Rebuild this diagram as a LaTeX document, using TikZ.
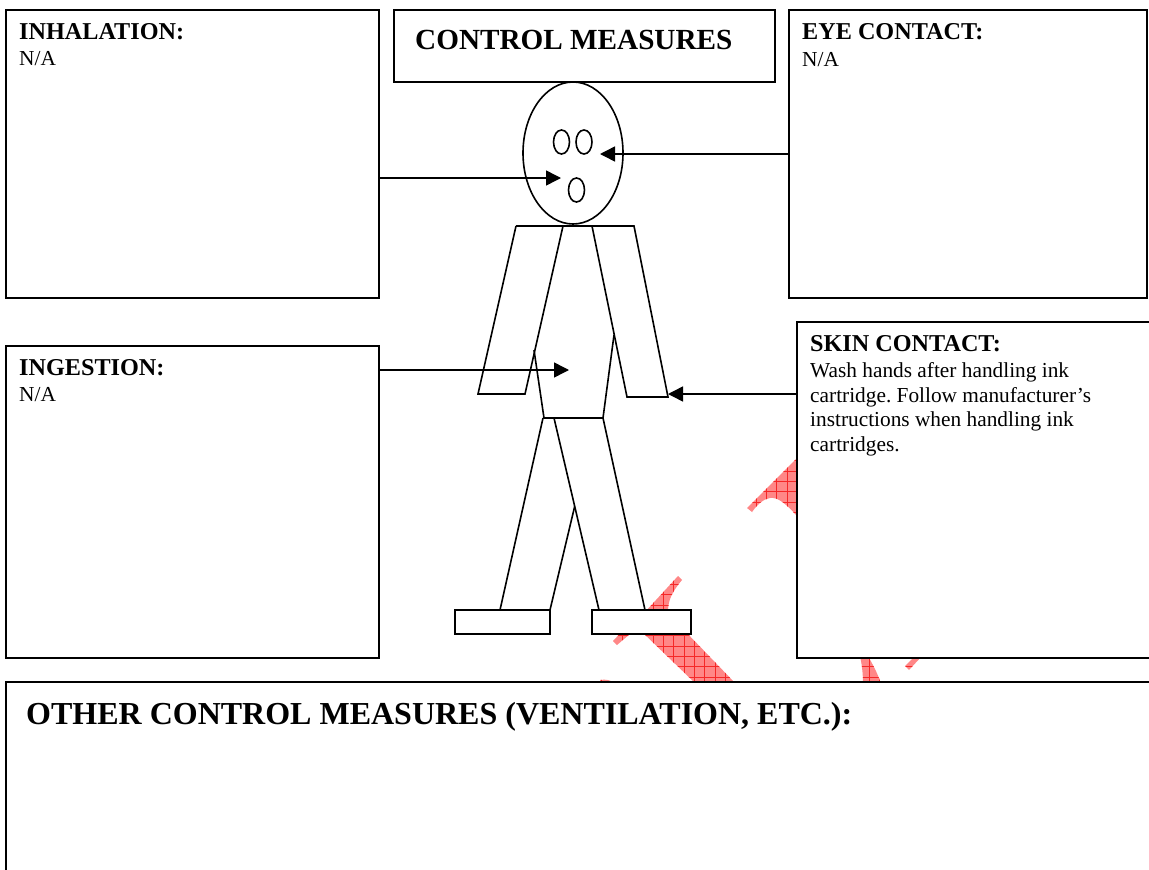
\documentclass[tikz,border=0pt]{standalone}
\usepackage{fontspec}
\setmainfont{Liberation Serif}
\usetikzlibrary{arrows.meta}
\definecolor{hazfill}{RGB}{255,135,135}
\definecolor{hazline}{RGB}{245,40,40}
\tikzset{
  panel/.style={draw=black,line width=1.6pt,fill=white,anchor=north west,inner sep=0pt,outer sep=0pt},
  limb/.style={draw=black,line width=1.6pt,line join=miter,fill=white},
  faceoval/.style={draw=black,line width=1.6pt,fill=white},
  pointer/.style={draw=black,line width=1.5pt,-{Triangle[length=15pt,width=15pt]}},
  head/.style={font=\fontsize{24.2}{26}\selectfont\bfseries,anchor=west,inner sep=0pt},
  body/.style={font=\fontsize{21.33}{24.6}\selectfont\frenchspacing,anchor=north west,inner sep=0pt,align=left},
}
\newcommand{\hazpiece}[1]{%
  \begin{scope}
    \fill[hazfill] #1;
    \clip #1;
    \foreach \gx in {601.5,611.8,...,900}{\draw[hazline,line width=0.5pt] (\gx,450)--(\gx,690);}
    \foreach \gy in {460.6,470.9,...,690}{\draw[hazline,line width=0.5pt] (600,\gy)--(930,\gy);}
  \end{scope}}
\begin{document}
\begin{tikzpicture}[x=1pt,y=-1pt]
\useasboundingbox (0,0) rectangle (1149,870);
\fill[white] (0,0) rectangle (1149,870);
% hazard symbol fragments
\hazpiece{(747,508) -- (797,458) -- (800,458) -- (800,518) -- (797,516) .. controls (785,503) and (778,497) .. (770,498) .. controls (763,499) and (757,505) .. (752,512) -- cycle}
\hazpiece{(678,576) -- (682,580) .. controls (672,592) and (668,600) .. (668,612) -- (645,612) -- cycle}
\hazpiece{(640,630) -- (684,630) -- (736,684) -- (696,684) -- cycle}
\hazpiece{(613,641) -- (640,612) -- (650,612) -- (630,634) -- (617,645) -- cycle}
\hazpiece{(600,680) .. controls (606,679) and (611,680) .. (616,684) -- (600,684) -- cycle}
\hazpiece{(860,656) -- (868,656) .. controls (873,665) and (878,674) .. (881,684) -- (863,684) .. controls (863,674) and (862,665) .. (860,656) -- cycle}
\hazpiece{(905,666) -- (915,656) -- (922,656) -- (909,670) -- cycle}
% panels
\node[panel,minimum width=373pt,minimum height=288pt] (inh) at (6,10) {};
\node[panel,minimum width=381pt,minimum height=72pt] (ctl) at (394,10) {};
\node[panel,minimum width=358pt,minimum height=288pt] (eye) at (789,10) {};
\node[panel,minimum width=373pt,minimum height=312pt] (ing) at (6,346) {};
\node[panel,minimum width=370pt,minimum height=336pt] (skn) at (797,322) {};
\node[panel,minimum width=1160pt,minimum height=200pt] (oth) at (6,682) {};
% figure
\draw[limb] (543,418) -- (500,610) -- (550,610) -- (575,505);
\draw[limb] (554,418) -- (599,610) -- (645,610) -- (603,418);
\draw[limb] (534,350) -- (544,418) -- (603,418) -- (614,335);
\draw[limb] (516,226) -- (634,226) -- (668,397) -- (627,397) -- (592,226);
\draw[limb,fill=none] (563,226) -- (525,394) -- (478,394) -- (516,226);
\draw[faceoval] (573,153) ellipse [x radius=50,y radius=71];
\draw[faceoval] (561.5,142) ellipse [x radius=8,y radius=12];
\draw[faceoval] (584,142) ellipse [x radius=8,y radius=12];
\draw[faceoval] (576.5,190) ellipse [x radius=8,y radius=12];
\draw[limb] (455,610) rectangle (550,634);
\draw[limb] (592,610) rectangle (691,634);
% connector ends
\coordinate (tinh) at (561,178);
\coordinate (teye) at (600,154);
\coordinate (ting) at (569,370);
\coordinate (tskn) at (668,394);
\draw[pointer] (inh.east |- tinh) -- (tinh);
\draw[pointer] (eye.west |- teye) -- (teye);
\draw[pointer] (ing.east |- ting) -- (ting);
\draw[pointer] (skn.west |- tskn) -- (tskn);
% text
\node[head] (t1) at (19,32) {INHALATION:};
\node[body] (t2) at (19,51.5) {N/A};
\node[head] (t3) at (802,32) {EYE CONTACT:};
\node[body] (t4) at (802,52.5) {N/A};
\node[head] (t5) at (19,368) {INGESTION:};
\node[body] (t6) at (19,387.5) {N/A};
\node[head] (t7) at (810,344) {SKIN CONTACT:};
\node[body] (t8) at (810,362.5) {Wash hands after handling ink\\cartridge. Follow manufacturer’s\\instructions when handling ink\\cartridges.};
\node[font=\fontsize{29.2}{32}\selectfont\bfseries,anchor=west,inner sep=0pt] (t9) at (415,40) {CONTROL MEASURES};
\node[font=\fontsize{32}{36}\selectfont\bfseries,anchor=west,inner sep=0pt] (t10) at (26,717) {OTHER CONTROL MEASURES (VENTILATION, ETC.):};
\end{tikzpicture}
\end{document}
